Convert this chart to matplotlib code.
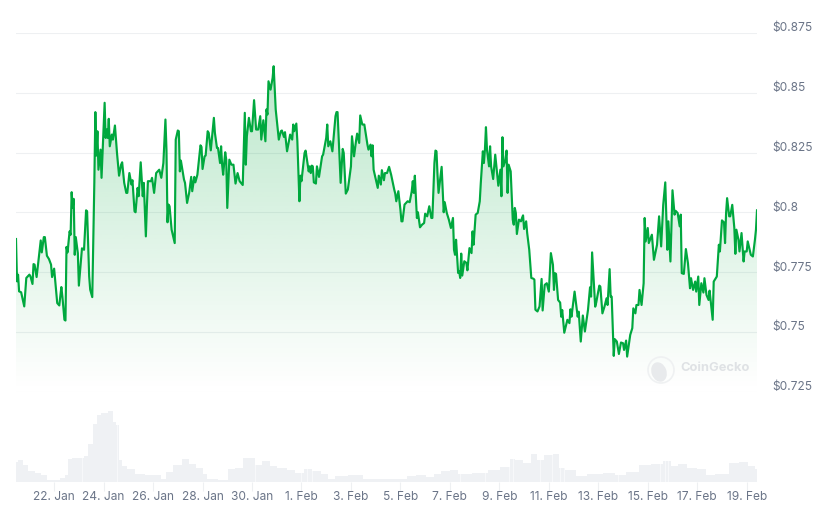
import numpy as np
import matplotlib
matplotlib.use("Agg")
import matplotlib.pyplot as plt
from matplotlib.patches import Circle, Ellipse, Polygon
from matplotlib.transforms import ScaledTranslation, IdentityTransform

# Price series: hours since 20 Jan 11:00 and USD price
price_hours = [
    0,1,2,3,5,8,10,13,14,16,17,18,20,24,25,27,28,30,32,34,35,37,40,42,44,45,47,48,49,50,52,53,54,55,56,57,58,60,61,64,66,68,69,71,72,74,76,77,78,79,80,82,83,86,87,88,89,90,91,93,94,96,98,100,102,103,105,107,108,110,112,113,115,116,118,119,121,123,124,126,127,128,131,132,134,136,139,141,143,145,146,147,148,149,151,154,155,157,158,159,160,163,164,166,168,170,171,173,174,176,179,180,181,183,184,186,187,189,192,193,195,196,198,199,200,201,203,204,205,207,209,211,213,215,217,220,222,223,224,226,228,229,231,233,235,237,238,240,242,243,244,245,247,249,250,252,253,255,
    257,258,260,261,263,266,268,269,270,272,273,275,276,277,280,281,284,285,286,287,288,289,291,292,294,297,298,301,302,303,305,307,310,311,312,315,317,318,320,322,325,326,328,330,331,333,334,336,338,341,342,344,345,346,347,351,352,354,355,357,358,360,362,364,367,368,369,371,373,374,375,377,380,382,384,385,386,387,389,390,392,394,396,397,399,401,403,404,406,407,408,409,410,413,415,416,418,420,422,424,425,426,427,429,430,431,432,433,435,437,438,440,442,443,444,446,448,450,451,453,454,455,456,457,459,460,461,463,465,468,470,471,472,473,475,476,477,478,480,482,483,484,485,486,488,490,491,492,493,495,496,498,500,502,503,504,506,508,
    510,511,513,515,517,519,521,522,523,524,526,528,529,530,532,535,537,538,539,542,545,546,548,550,552,555,557,558,559,562,563,566,567,569,571,573,574,576,577,578,580,581,583,585,587,589,590,592,593,596,598,599,601,602,604,605,607,609,610,611,613,614,617,619,622,624,626,628,630,632,633,635,637,639,640,642,644,645,646,648,650,652,654,655,657,659,660,662,663,665,667,668,670,672,673,676,677,680,682,683,685,687,688,689,690,692,693,695,697,698,699,701,702,704,706,707,709,710,713,715,717,718,719,
]
prices = [
    .7888,.7711,.7739,.7669,.7665,.7606,.7725,.7739,.7732,.7700,.7783,.7781,.7729,.7882,.7832,.7896,.7896,.7818,.7804,.7781,.7729,.7764,.7620,.7610,.7687,.7648,.7550,.7547,.7855,.7832,.7920,.7906,.8084,.8018,.8056,.7822,.7896,.7829,.7693,.7849,.7843,.8008,.8004,.7732,.7676,.7645,.8123,.8419,.8237,.8339,.8178,.8262,.8144,.8458,.8311,.8346,.8311,.8391,.8276,.8325,.8304,.8363,.8248,.8153,.8199,.8209,.8123,.8081,.8081,.8164,.8116,.8134,.8004,.8000,.8102,.8067,.8209,.8067,.8123,.7899,.8025,.8130,.8130,.8144,.8081,.8164,.8178,.8144,.8206,.8388,.8262,.7958,.8032,.8025,.7927,.7871,.8304,.8342,.8339,.8171,.8216,.8137,.8123,.8039,.8081,.8148,.8088,.8148,.8125,.8157,.8280,.8273,.8181,.8234,.8237,.8339,.8332,.8259,.8395,.8332,.8269,.8269,.8206,.8276,.8199,.8157,.8251,.8220,.8018,.8220,.8199,.8199,.8120,.8164,.8130,.8114,.8416,.8199,.8318,.8395,.8339,.8339,.8469,.8346,.8346,.8402,.8304,.8385,.8297,.8430,.8409,.8548,.8513,.8562,.8611,.8430,.8388,.8304,
    .8339,.8342,.8315,.8335,.8255,.8325,.8304,.8367,.8339,.8371,.8297,.8046,.8153,.8130,.8248,.8258,.8171,.8192,.8164,.8195,.8192,.8125,.8120,.8192,.8148,.8234,.8241,.8311,.8367,.8276,.8297,.8255,.8402,.8419,.8419,.8123,.8265,.8248,.8078,.8095,.8192,.8318,.8234,.8301,.8329,.8290,.8405,.8367,.8367,.8283,.8262,.8283,.8234,.8280,.8178,.8102,.8153,.8116,.8176,.8134,.8164,.8164,.8190,.8157,.8095,.8078,.8046,.8088,.8011,.7962,.7962,.8032,.8046,.8042,.8088,.8130,.8081,.8153,.7976,.8000,.7937,.7948,.7955,.7994,.7983,.8025,.7976,.7976,.8206,.8258,.8255,.8157,.8081,.8190,.8000,.8042,.7997,.7969,.7934,.7976,.7843,.7822,.7885,.7746,.7753,.7725,.7827,.7735,.7795,.7788,.7757,.7850,.7829,.7920,.7864,.7990,.7997,.8046,.8123,.8255,.8206,.8262,.8356,.8262,.8192,.8276,.8192,.8139,.8241,.8111,.8178,.8067,.8314,.8192,.8220,.8258,.8081,.8199,.8171,.7969,.7948,.8018,.7997,.7909,.7969,.7962,.7976,.7987,.7930,.7962,.7913,.7843,.7725,.7722,.7718,.7592,.7585,.7606,
    .7721,.7589,.7696,.7703,.7668,.7829,.7780,.7675,.7745,.7742,.7633,.7622,.7563,.7591,.7496,.7550,.7536,.7594,.7563,.7668,.7563,.7584,.7459,.7568,.7501,.7591,.7686,.7647,.7832,.7605,.7622,.7693,.7689,.7577,.7605,.7640,.7612,.7762,.7647,.7647,.7399,.7469,.7459,.7407,.7455,.7452,.7424,.7463,.7396,.7487,.7515,.7598,.7577,.7612,.7612,.7675,.7612,.7703,.7976,.7878,.7934,.7871,.7906,.7801,.7864,.7983,.7857,.8031,.8125,.7843,.7962,.7794,.8092,.7990,.8006,.7997,.7941,.7990,.7745,.7742,.7846,.7787,.7682,.7724,.7675,.7710,.7668,.7731,.7612,.7703,.7664,.7724,.7654,.7633,.7672,.7550,.7710,.7731,.7864,.7836,.7966,.7957,.7871,.7997,.8059,.7983,.7983,.8031,.7934,.7826,.7927,.7885,.7836,.7913,.7794,.7836,.7836,.7878,.7822,.7815,.7885,.7927,.8008,
]

# Trading volume on its own relative scale
volume_hours = [
    0,4,9,15,22,27,33,39,46,49,52,57,64,67,72,77,80,85,93,96,98,101,104,111,120,130,138,143,148,156,166,170,179,183,188,204,208,217,224,230,233,245,248,259,266,276,282,292,300,305,314,331,343,373,
    385,392,403,408,416,427,431,453,463,476,482,487,497,503,508,516,526,528,537,549,560,579,584,599,610,623,633,638,647,655,667,672,685,698,706,715,719,
]
volume = [
    20,22,17,11,9,7,2,2,4,7,23,24,24,26,38,58,67,69,71,60,57,22,16,13,8,7,7,3,10,17,23,18,14,8,3,2,13,14,24,24,17,21,16,14,12,9,13,11,8,3,6,7,3,3,
    6,7,5,8,11,12,8,9,12,15,23,22,19,28,22,27,28,14,12,6,8,9,7,10,17,18,21,16,18,14,13,7,8,19,20,16,13,
]
volume_gaps = [64, 98, 232, 277, 282, 287, 431, 455, 478, 482, 508, 520, 528, 532, 584, 625, 630, 633]

price_ticks = [0.725, 0.75, 0.775, 0.8, 0.825, 0.85, 0.875]
price_labels = ["$0.725", "$0.75", "$0.775", "$0.8", "$0.825", "$0.85", "$0.875"]
date_labels = ["22. Jan", "24. Jan", "26. Jan", "28. Jan", "30. Jan", "1. Feb", "3. Feb", "5. Feb",
               "7. Feb", "9. Feb", "11. Feb", "13. Feb", "15. Feb", "17. Feb", "19. Feb"]
date_ticks = [37 + 48 * i for i in range(len(date_labels))]

GREEN = "#00a83e"
GRID = "#eef0f2"
TEXT = "#6b7588"
FONT = "Inter"
W, H = 821, 519

fig = plt.figure(figsize=(W / 100, H / 100), dpi=100, facecolor="white")
left, right = 16 / W, 757 / W
ax = fig.add_axes([left, 1 - 391.5 / H, right - left, (391.5 - 33) / H])
ax_vol = fig.add_axes([left, 1 - 481.7 / H, right - left, (481.7 - 391.5) / H])

# Price line with a green fade underneath
t0, t1 = price_hours[0], price_hours[-1]
top = max(prices)
ramp = np.zeros((256, 1, 4))
ramp[..., 0], ramp[..., 1], ramp[..., 2] = 0 / 255, 168 / 255, 62 / 255
ramp[..., 3] = np.linspace(0.27, 0.0, 256)[:, None]
fade = ax.imshow(ramp, extent=[t0, t1, 0.725, top], origin="upper", aspect="auto", zorder=1,
                 interpolation="bilinear")
outline = np.column_stack([price_hours, prices])
outline = np.vstack([[t0, 0.725], outline, [t1, 0.725]])
clip = Polygon(outline, closed=True, transform=ax.transData)
fade.set_clip_path(clip)
ax.plot(price_hours, prices, color=GREEN, lw=1.55, solid_joinstyle="round", zorder=3)

ax.set_xlim(t0, t1)
ax.set_ylim(0.725, 0.875)
ax.set_xticks([])
ax.set_yticks(price_ticks, price_labels)
ax.yaxis.tick_right()
ax.tick_params(axis="y", length=0, pad=10.8, labelsize=8.6, labelcolor=TEXT)
ax.yaxis.grid(True, color=GRID, lw=0.8, zorder=0)
ax.set_axisbelow(True)
lift = ScaledTranslation(0, 6 / 100, fig.dpi_scale_trans)
for lab in ax.get_yticklabels():
    lab.set_family(FONT)
    lab.set_transform(lab.get_transform() + lift)
for s in ax.spines.values():
    s.set_visible(False)
ax.patch.set_alpha(0)

# Volume bars along the bottom, drawn as a stepped area
ax_vol.fill_between(volume_hours, volume, 0, step="mid", color="#eff1f4", lw=0, zorder=2)
ax_vol.vlines(volume_gaps, 0, 80, color="white", lw=0.5, alpha=0.8, zorder=3)
ax_vol.set_xlim(t0, t1)
ax_vol.set_ylim(0, 90.2)
ax_vol.set_yticks([])
ax_vol.set_xticks(date_ticks, date_labels)
ax_vol.tick_params(axis="x", length=6.2, width=0.8, color=GRID, pad=0.5, labelsize=8.6, labelcolor=TEXT)
for lab in ax_vol.get_xticklabels():
    lab.set_family(FONT)
for s in ax_vol.spines.values():
    s.set_visible(False)
ax_vol.patch.set_alpha(0)

# CoinGecko mark in the lower right of the price panel
px = IdentityTransform()
fig.add_artist(Circle((661, H - 370), 13, fill=False, ec="#eff1f2", lw=1.2, transform=px))
fig.add_artist(Ellipse((659, H - 372), 15, 20, angle=20, fc="#e8eaec", ec="none", transform=px))
fig.text(680 / W, 1 - 368 / H, "CoinGecko", color="#dfe2e5", fontsize=9.3, fontweight="bold",
         family=FONT, va="center", ha="left")

fig.savefig("out.png", dpi=100)
